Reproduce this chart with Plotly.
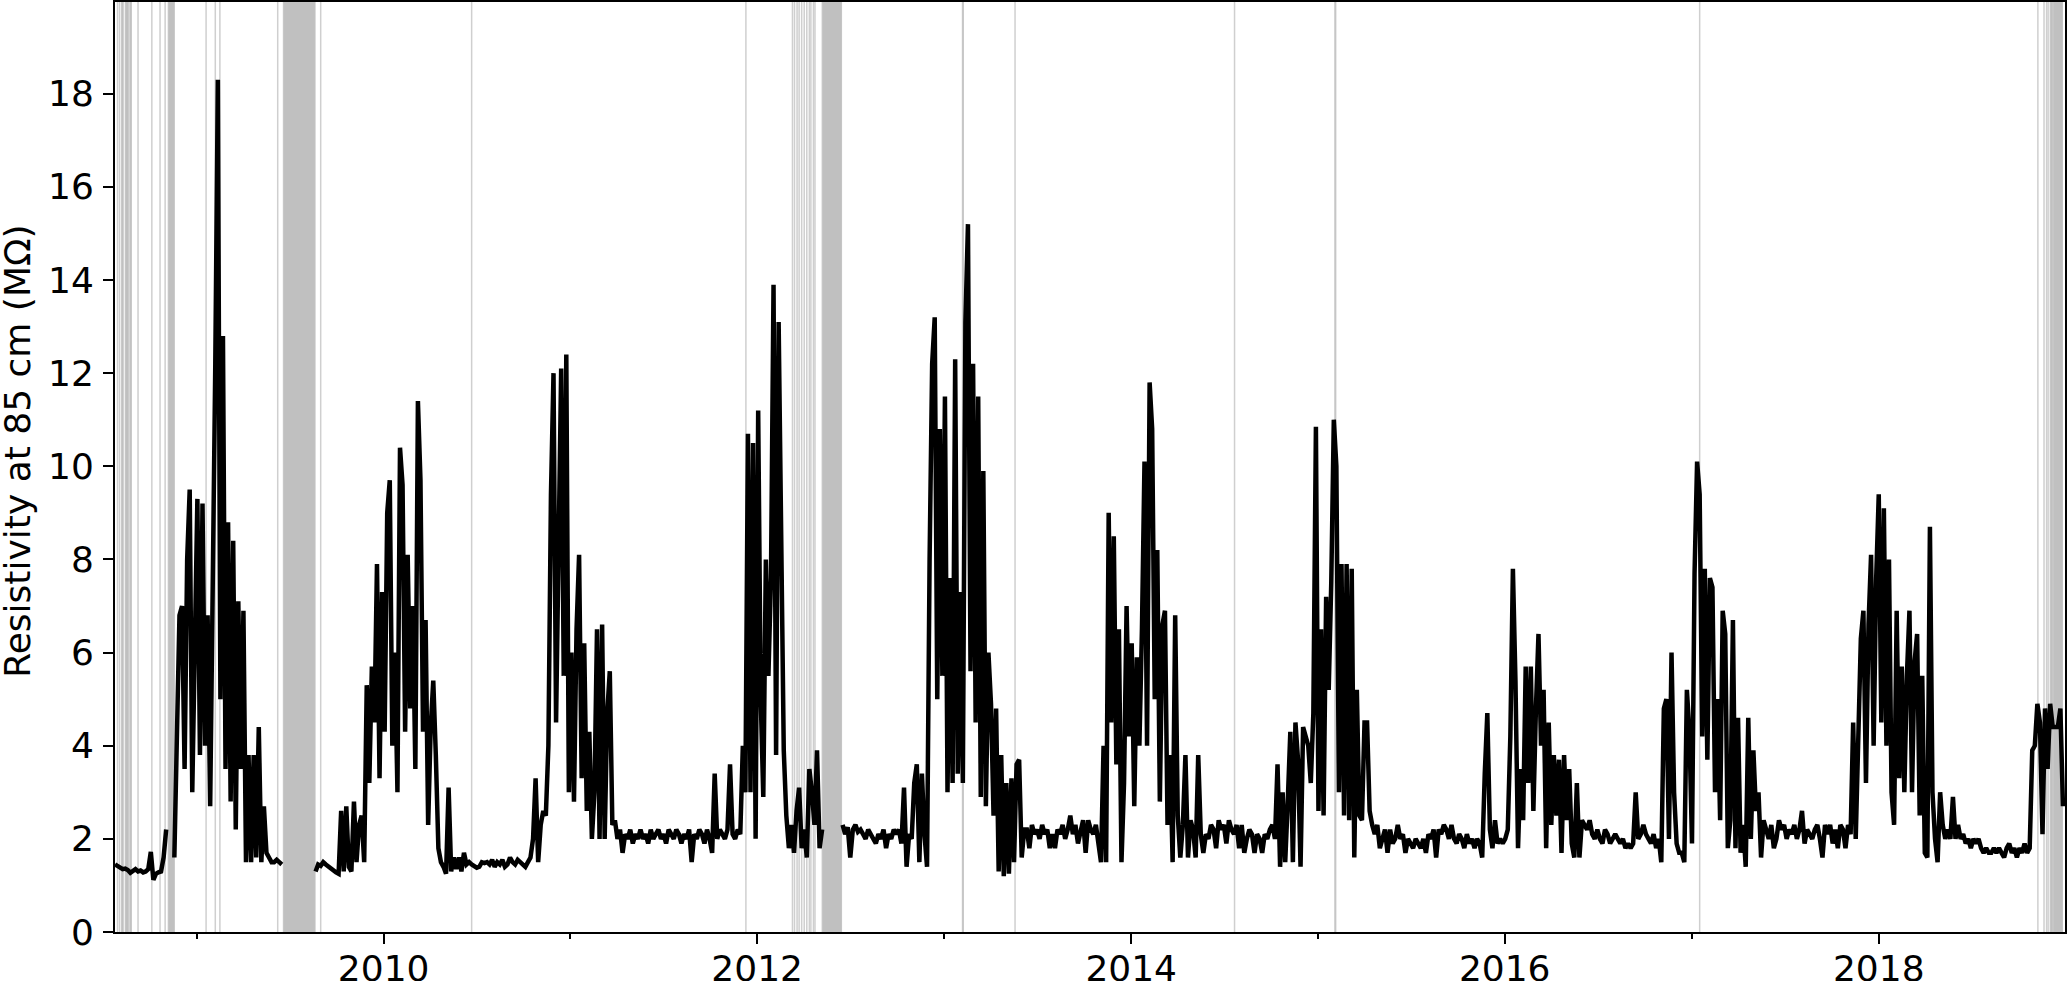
import pandas as pd
import plotly.graph_objects as go

# resistivity at 85 cm depth (MΩ), read every 5 days, one list per recorded stretch
seg_starts = ["2008-07-25", "2008-11-18", "2009-08-21", "2012-06-16"]

seg_a = [1.45, 1.42, 1.38, 1.35, 1.36, 1.33, 1.27, 1.3, 1.35, 1.3,
         1.32, 1.28, 1.3, 1.35, 1.72, 1.12, 1.25, 1.28, 1.3, 1.6, 2.2]

seg_b = [1.6, 4.7, 6.8, 7.0, 3.5, 8.0, 9.5, 3.0, 7.0, 9.3,
         3.8, 9.2, 4.0, 6.8, 2.7, 6.6, 12.2, 18.3, 5.0, 12.8,
         3.5, 8.8, 2.8, 8.4, 2.2, 7.1, 3.5, 6.9, 1.5, 3.8,
         1.5, 3.8, 1.6, 4.4, 1.5, 2.7, 1.7, 1.6, 1.5, 1.5,
         1.55, 1.5, 1.45]

seg_c = [1.3, 1.45, 1.42, 1.5, 1.45, 1.4, 1.35, 1.3, 1.28, 1.25,
         2.6, 1.3, 2.7, 1.4, 1.3, 2.8, 1.5, 2.3, 2.5, 1.5,
         5.3, 3.2, 5.7, 4.5, 7.9, 3.3, 7.3, 4.3, 9.0, 9.7,
         4.0, 6.0, 3.0, 10.4, 9.6, 4.3, 8.1, 4.8, 7.0, 3.5,
         11.4, 9.7, 4.3, 6.7, 2.3, 4.4, 5.4, 3.8, 1.8, 1.5,
         1.4, 1.25, 3.1, 1.3, 1.6, 1.35, 1.6, 1.3, 1.7, 1.45,
         1.5, 1.45, 1.4, 1.38, 1.4, 1.5, 1.48, 1.5, 1.45, 1.55,
         1.4, 1.5, 1.45, 1.55, 1.4, 1.45, 1.6, 1.5, 1.45, 1.55,
         1.5, 1.45, 1.4, 1.5, 1.6, 2.0, 3.3, 1.5, 2.3, 2.6,
         2.5, 4.0, 9.4, 12.0, 4.5, 8.3, 12.1, 5.5, 12.4, 3.0,
         6.0, 2.8, 6.5, 8.1, 3.3, 6.2, 2.6, 4.3, 2.0, 3.0,
         6.5, 2.0, 6.6, 2.0, 4.7, 5.6, 2.3, 2.4, 2.0, 2.2,
         1.7, 2.1, 2.0, 2.2, 1.9, 2.1, 2.0, 2.2, 2.0, 2.1,
         1.9, 2.2, 2.0, 2.1, 2.2, 2.0, 2.1, 1.9, 2.2, 2.1,
         2.0, 2.2, 2.1, 1.9, 2.1, 2.0, 2.2, 1.5, 2.1, 2.0,
         2.2, 2.1, 1.9, 2.2, 2.0, 1.7, 3.4, 2.0, 2.2, 2.1,
         2.0, 2.2, 3.6, 2.1, 2.0, 2.2, 2.1, 4.0, 3.0, 10.7,
         3.0, 10.5, 2.0, 11.2, 5.0, 2.9, 8.0, 5.5, 7.6, 13.9,
         3.8, 13.1, 7.8, 3.9, 2.5, 1.8, 2.3, 1.7, 2.6, 3.1,
         1.8, 2.2, 1.6, 3.5, 3.0, 2.3, 3.9, 1.8, 2.2]

seg_d = [2.3, 2.1, 2.25, 1.6, 2.2, 2.3, 2.15, 2.2, 2.1, 2.0,
         2.2, 2.1, 2.0, 1.9, 2.1, 2.0, 2.2, 1.8, 2.1, 2.0,
         2.2, 2.1, 2.2, 1.9, 3.1, 1.4, 2.1, 2.0, 3.2, 3.6,
         1.5, 3.4, 2.1, 1.4, 8.0, 12.2, 13.2, 5.0, 10.8, 5.5,
         11.5, 3.0, 7.6, 3.2, 12.3, 3.4, 7.3, 3.2, 13.1, 15.2,
         5.6, 12.2, 4.5, 11.5, 2.9, 9.9, 2.7, 6.0, 4.9, 2.5,
         4.8, 1.3, 3.8, 1.2, 3.2, 1.25, 3.3, 1.5, 3.6, 3.7,
         1.6, 2.2, 2.2, 1.8, 2.3, 2.1, 2.2, 2.0, 2.3, 2.1,
         2.2, 1.8, 2.1, 1.8, 2.2, 2.1, 2.3, 2.0, 2.2, 2.5,
         2.1, 2.3, 1.9, 2.2, 2.4, 1.7, 2.4, 2.2, 2.1, 2.3,
         1.9, 1.5, 4.0, 1.5, 9.0, 4.5, 8.5, 3.6, 6.5, 1.5,
         3.2, 7.0, 4.2, 6.2, 2.7, 5.9, 4.0, 6.5, 10.1, 4.0,
         11.8, 10.8, 5.0, 8.2, 2.8, 6.6, 6.9, 2.3, 3.8, 1.5,
         6.8, 2.5, 1.6, 2.3, 3.8, 1.6, 2.4, 2.2, 1.6, 3.8,
         2.1, 1.7, 2.1, 2.0, 2.3, 2.2, 1.8, 2.4, 2.2, 2.3,
         1.9, 2.4, 2.2, 2.1, 2.3, 1.8, 2.3, 1.7, 2.0, 2.2,
         2.1, 1.7, 2.1, 2.0, 1.7, 2.1, 2.0, 2.2, 2.3, 2.0,
         3.6, 1.4, 3.0, 1.5, 2.8, 4.3, 1.5, 4.5, 3.7, 1.4,
         4.4, 4.2, 4.0, 3.2, 4.7, 10.85, 2.6, 6.5, 2.5, 7.2,
         5.2, 7.5, 11.0, 10.0, 3.0, 7.9, 2.5, 7.9, 2.4, 7.8,
         1.6, 5.2, 2.5, 2.4, 4.5, 4.5, 2.6, 2.3, 2.1, 2.3,
         1.8, 2.0, 2.2, 1.7, 2.2, 1.9, 2.0, 2.3, 2.0, 2.1,
         1.7, 2.0, 1.9, 1.8, 2.0, 1.9, 1.8, 2.0, 1.7, 2.1,
         2.0, 2.2, 1.6, 2.2, 2.1, 2.3, 2.2, 2.0, 2.3, 2.0,
         1.9, 2.1, 2.0, 1.8, 2.1, 1.9, 2.0, 1.8, 2.0, 1.9,
         1.6, 3.4, 4.7, 2.2, 1.8, 2.4, 1.9, 2.0, 1.9, 2.0,
         2.2, 4.2, 7.8, 5.4, 1.8, 3.5, 2.4, 5.7, 3.2, 5.7,
         2.6, 4.8, 6.4, 4.0, 5.2, 1.8, 4.5, 2.3, 3.8, 2.5,
         3.7, 1.7, 3.8, 2.4, 3.5, 1.9, 1.6, 3.2, 1.6, 2.4,
         2.3, 2.2, 2.4, 2.1, 2.0, 2.2, 2.0, 1.9, 2.2, 2.1,
         1.9, 2.0, 2.1, 2.0, 1.9, 2.0, 1.8, 1.9, 1.8, 1.9,
         3.0, 2.0, 2.1, 2.3, 2.1, 2.0, 1.9, 2.1, 1.8, 2.0,
         1.5, 4.8, 5.0, 2.0, 6.0, 3.0, 1.9, 1.7, 1.7, 1.5,
         5.2, 4.3, 1.9, 7.7, 10.1, 9.4, 4.2, 7.8, 3.7, 7.6,
         7.4, 3.0, 5.0, 2.4, 6.9, 6.4, 1.8, 2.4, 6.7, 1.8,
         4.6, 1.7, 2.3, 1.4, 4.6, 2.0, 3.9, 2.6, 3.0, 1.6,
         2.4, 2.2, 2.0, 2.3, 1.8, 2.0, 2.4, 2.2, 2.3, 2.0,
         2.2, 2.1, 2.3, 2.0, 2.2, 2.6, 1.9, 2.2, 2.1, 2.0,
         2.2, 2.3, 2.0, 1.6, 2.3, 2.1, 2.3, 1.9, 2.2, 1.8,
         2.3, 2.2, 1.8, 2.3, 2.1, 4.5, 2.0, 3.8, 6.3, 6.9,
         3.2, 6.6, 8.1, 4.0, 7.6, 9.4, 4.5, 9.1, 4.0, 8.0,
         3.0, 2.3, 6.9, 3.3, 5.7, 3.0, 5.5, 6.9, 3.0, 5.8,
         6.4, 2.5, 5.5, 1.7, 1.6, 8.7, 3.0, 2.0, 1.5, 3.0,
         2.3, 2.0, 2.2, 2.0, 2.9, 2.0, 2.3, 2.0, 2.1, 1.9,
         2.0, 1.8, 2.0, 1.9, 2.0, 1.8, 1.7, 1.8, 1.7, 1.7,
         1.8, 1.7, 1.8, 1.7, 1.6, 1.8, 1.9, 1.7, 1.8, 1.6,
         1.8, 1.7, 1.9, 1.7, 1.8, 3.9, 4.0, 4.9, 4.5, 2.1,
         4.8, 3.5, 4.9, 4.4, 4.4, 4.4, 4.8, 2.7]

segments = [seg_a, seg_b, seg_c, seg_d]

# flagged single days and longer flagged stretches (grey bands)
gap_days = ["2008-07-30", "2008-08-03", "2008-09-08", "2008-10-05", "2008-10-21",
            "2008-10-31", "2009-01-19", "2009-02-06", "2009-02-15", "2009-06-08",
            "2009-08-31", "2010-06-22", "2011-12-10", "2012-03-10", "2012-03-14",
            "2012-03-19", "2012-03-23", "2012-03-28", "2012-04-02", "2012-04-07",
            "2012-04-12", "2012-04-15", "2012-04-20", "2012-04-23", "2013-05-19",
            "2014-07-22", "2017-01-16", "2018-11-08", "2018-11-20", "2018-11-25",
            "2018-11-28"]
gap_spans = [("2008-08-07", "2008-08-10"), ("2008-08-14", "2008-08-20"),
             ("2008-08-23", "2008-08-26"), ("2008-11-06", "2008-11-18"),
             ("2009-06-19", "2009-08-20"), ("2012-05-07", "2012-06-14"),
             ("2013-02-05", "2013-02-07"), ("2015-02-03", "2015-02-05"),
             ("2018-12-02", "2018-12-07"), ("2018-12-08", "2018-12-26")]

year_ticks = ["2010-01-01", "2012-01-01", "2014-01-01", "2016-01-01", "2018-01-01"]
year_labels = ["2010", "2012", "2014", "2016", "2018"]
odd_years = ["2009-01-01", "2011-01-01", "2013-01-01", "2015-01-01", "2017-01-01"]
y_ticks = [0, 2, 4, 6, 8, 10, 12, 14, 16, 18]

xs, ys = [], []
for start, vals in zip(seg_starts, segments):
    dates = pd.date_range(start, periods=len(vals), freq="5D")
    xs += [d.strftime("%Y-%m-%d") for d in dates]
    xs.append((dates[-1] + pd.Timedelta(days=1)).strftime("%Y-%m-%d"))
    ys += vals + [None]

shapes = []
for d in gap_days:
    shapes.append(dict(type="line", xref="x", yref="paper", x0=d, x1=d, y0=0, y1=1,
                       line=dict(color="#cfcfcf", width=1.5), layer="below"))
for a, b in gap_spans:
    shapes.append(dict(type="rect", xref="x", yref="paper", x0=a, x1=b, y0=0, y1=1,
                       fillcolor="#c0c0c0", line=dict(color="#c4c4c4", width=1), layer="below"))

fig = go.Figure(go.Scatter(x=xs, y=ys, mode="lines", line=dict(color="black", width=4.5)))

fig.update_layout(
    width=2067, height=981,
    margin=dict(l=115, r=2, t=2, b=49),
    paper_bgcolor="white", plot_bgcolor="white",
    font=dict(family="DejaVu Sans", size=36, color="black"),
    showlegend=False,
    shapes=shapes,
)
# y label placed by hand, a little above centre as in the original
fig.add_annotation(text="Resistivity at 85 cm (MΩ)", textangle=-90,
                   xref="paper", yref="paper", x=-0.05, y=0.517,
                   xanchor="center", yanchor="middle", showarrow=False,
                   font=dict(size=36))
fig.update_xaxes(type="date", range=["2008-07-25", "2018-12-31"], automargin=False,
                 tickvals=year_ticks, ticktext=year_labels,
                 ticks="outside", ticklen=10, tickwidth=2, tickcolor="black",
                 ticklabelstandoff=-6,
                 minor=dict(ticks="outside", ticklen=5, tickwidth=2, tickcolor="black",
                            tickvals=odd_years, showgrid=False),
                 showline=True, linewidth=2, linecolor="black", mirror=True,
                 showgrid=False, zeroline=False)
fig.update_yaxes(range=[0, 19.97], tickvals=y_ticks, automargin=False,
                 ticks="outside", ticklen=10, tickwidth=2, tickcolor="black",
                 ticklabelstandoff=2,
                 showline=True, linewidth=2, linecolor="black", mirror=True,
                 showgrid=False, zeroline=False)

# drop the page's default body margin so the figure sits at the window's corner
fig.write_html("out.html", config={"displayModeBar": False},
               post_script="document.body.style.margin = '0';")
